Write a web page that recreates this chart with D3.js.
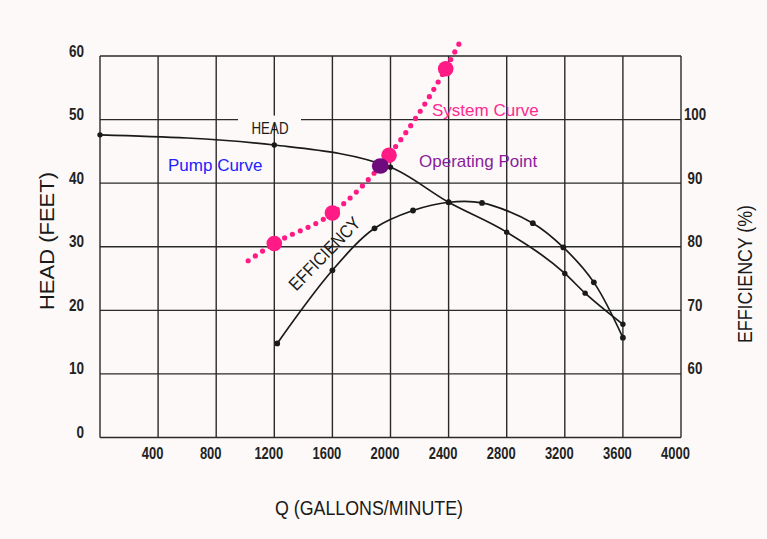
<!DOCTYPE html>
<html><head><meta charset="utf-8">
<script src="https://cdn.jsdelivr.net/npm/d3@7"></script>
<style>
body{margin:0;background:#fcf9f8;}
svg{display:block;}
text{font-family:"Liberation Sans",Arial,Helvetica,sans-serif;}
</style>
</head><body>
<svg id="c" width="767" height="539"></svg>
<script>
// ---- data ----
const qGrid = [0,400,800,1200,1600,2000,2400,2800,3200,3600,4000];
const qTicks = [400,800,1200,1600,2000,2400,2800,3200,3600,4000];
const headTicks = [0,10,20,30,40,50,60];
const effTicks = [60,70,80,90,100];

const headQ   = [0,1200,2000,2400,2800,3200,3340,3600];
const headVal = [47.6,46.0,42.5,37.0,32.3,25.8,22.7,17.8];

const effQ   = [1220,1600,1890,2155,2400,2630,2980,3190,3400,3600];
const effVal = [64.8,76.3,82.9,85.7,87.0,86.9,83.7,79.9,74.4,65.7];

const sysQ    = [1020,1200,1600,1990,2380,2490];
const sysHead = [27.8,30.5,35.3,44.4,58.0,62.7];
const sysMarkQ    = [1200,1600,1990,2380];
const sysMarkHead = [30.5,35.3,44.4,58.0];

const opQ = [1930];
const opHead = [42.7];

// ---- scales ----
const svg = d3.select("#c");
const x = d3.scaleLinear().domain([0,4000]).range([100,681]);
const y = d3.scaleLinear().domain([0,60]).range([437.5,56]);
const yE = d3.scaleLinear().domain([50,110]).range([437.5,56]);
const fmt = d3.format("d");

svg.append("rect").attr("width",767).attr("height",539).attr("fill","#fcf9f8");

const gridColor = "#2a2a2a";
const grid = svg.append("g");
grid.selectAll("line.v").data(qGrid).join("line")
  .attr("x1",d=>x(d)).attr("x2",d=>x(d))
  .attr("y1",y(60)).attr("y2",y(0))
  .attr("stroke",gridColor).attr("stroke-width",1.4);
grid.selectAll("line.h").data(headTicks).join("line")
  .attr("x1",x(0)).attr("x2",x(4000))
  .attr("y1",d=>y(d)).attr("y2",d=>y(d))
  .attr("stroke",gridColor).attr("stroke-width",1.4);

function condense(sel, perChar){
  sel.each(function(){
    const t=d3.select(this); const s=t.text();
    t.attr("textLength", s.length*perChar).attr("lengthAdjust","spacingAndGlyphs");
  });
}
const ax = svg.append("g").attr("transform",`translate(0,${y(0)})`)
  .call(d3.axisBottom(x).tickValues(qTicks).tickFormat(fmt).tickSize(0).tickPadding(0));
ax.select(".domain").remove();
ax.selectAll("text").attr("y",16).attr("dy","0.35em").attr("dx",-6)
  .attr("font-size",16.5).attr("font-weight","bold").attr("fill","#222").attr("font-family",null).call(condense,7.2);

const ay = svg.append("g").attr("transform",`translate(${x(0)},0)`)
  .call(d3.axisLeft(y).tickValues(headTicks).tickFormat(fmt).tickSize(0).tickPadding(16));
ay.select(".domain").remove();
ay.selectAll("text").attr("dy","0.0em").attr("font-size",16.5).attr("font-weight","bold").attr("fill","#222").attr("font-family",null).call(condense,7.5);

const ar = svg.append("g").attr("transform",`translate(${x(4000)},0)`)
  .call(d3.axisRight(yE).tickValues(effTicks).tickFormat(fmt).tickSize(0).tickPadding(14));
ar.select(".domain").remove();
ar.selectAll("text").attr("text-anchor","middle").attr("dy","0.0em").attr("font-size",16.5).attr("font-weight","bold").attr("fill","#222").attr("font-family",null).call(condense,7.4);

// HEAD label on 50 line with gap
svg.append("rect").attr("x",238).attr("y",y(50)-4).attr("width",63).attr("height",8).attr("fill","#fcf9f8");
svg.append("text").attr("x",270).attr("y",134).attr("text-anchor","middle")
  .attr("font-size",17).attr("fill","#1a1a1a").attr("textLength",37).attr("lengthAdjust","spacingAndGlyphs").text("HEAD");

// head curve
const headPts = headQ.map((q,i)=>[q,headVal[i]]);
svg.append("path").datum(headPts)
  .attr("d", d3.line().x(d=>x(d[0])).y(d=>y(d[1])).curve(d3.curveMonotoneX))
  .attr("fill","none").attr("stroke","#1a1a1a").attr("stroke-width",1.7);
svg.selectAll("circle.hd").data(headPts).join("circle").attr("class","hd")
  .attr("cx",d=>x(d[0])).attr("cy",d=>y(d[1])).attr("r",2.7).attr("fill","#1a1a1a");

// efficiency curve
const effPts = effQ.map((q,i)=>[q,effVal[i]]);
svg.append("path").datum(effPts)
  .attr("d", d3.line().x(d=>x(d[0])).y(d=>yE(d[1])).curve(d3.curveCatmullRom.alpha(0.5)))
  .attr("fill","none").attr("stroke","#1a1a1a").attr("stroke-width",1.7);
svg.selectAll("circle.ef").data(effPts).join("circle").attr("class","ef")
  .attr("cx",d=>x(d[0])).attr("cy",d=>yE(d[1])).attr("r",2.9).attr("fill","#1a1a1a");

svg.append("text").attr("transform","translate(329,258) rotate(-46)").attr("text-anchor","middle")
  .attr("font-size",18).attr("fill","#1a1a1a").attr("textLength",94).attr("lengthAdjust","spacingAndGlyphs").text("EFFICIENCY");

// system curve (dotted pink)
const pink = "#ff1a85";
const sysPts = sysQ.map((q,i)=>[q,sysHead[i]]);
svg.append("path").datum(sysPts)
  .attr("d", d3.line().x(d=>x(d[0])).y(d=>y(d[1])).curve(d3.curveMonotoneX))
  .attr("fill","none").attr("stroke",pink).attr("stroke-width",5.2)
  .attr("stroke-linecap","round").attr("stroke-dasharray","0 8.6");
svg.selectAll("circle.sm").data(sysMarkQ.map((q,i)=>[q,sysMarkHead[i]])).join("circle").attr("class","sm")
  .attr("cx",d=>x(d[0])).attr("cy",d=>y(d[1])).attr("r",7.8).attr("fill",pink);

// operating point
svg.selectAll("ellipse.op").data(opQ.map((q,i)=>[q,opHead[i]])).join("ellipse").attr("class","op")
  .attr("cx",d=>x(d[0])).attr("cy",d=>y(d[1])).attr("rx",8.5).attr("ry",7.8).attr("fill","#6e0a7e");

// annotation texts
svg.append("text").attr("x",168).attr("y",171).attr("font-size",17).attr("fill","#2222ff").text("Pump Curve");
svg.append("text").attr("x",432).attr("y",116).attr("font-size",17).attr("fill","#ff2a90").text("System Curve");
svg.append("text").attr("x",419).attr("y",167).attr("font-size",17).attr("fill","#8a1c9c").text("Operating Point");

// axis titles
svg.append("text").attr("transform","translate(54,241) rotate(-90)").attr("text-anchor","middle")
  .attr("font-size",20).attr("fill","#1a1a1a").attr("textLength",138).attr("lengthAdjust","spacingAndGlyphs").text("HEAD (FEET)");
svg.append("text").attr("transform","translate(752,274) rotate(-90)").attr("text-anchor","middle")
  .attr("font-size",20).attr("fill","#1a1a1a").attr("textLength",138).attr("lengthAdjust","spacingAndGlyphs").text("EFFICIENCY (%)");
svg.append("text").attr("x",369).attr("y",515).attr("text-anchor","middle")
  .attr("font-size",20).attr("fill","#1a1a1a").attr("textLength",188).attr("lengthAdjust","spacingAndGlyphs").text("Q (GALLONS/MINUTE)");
</script>
</body></html>
